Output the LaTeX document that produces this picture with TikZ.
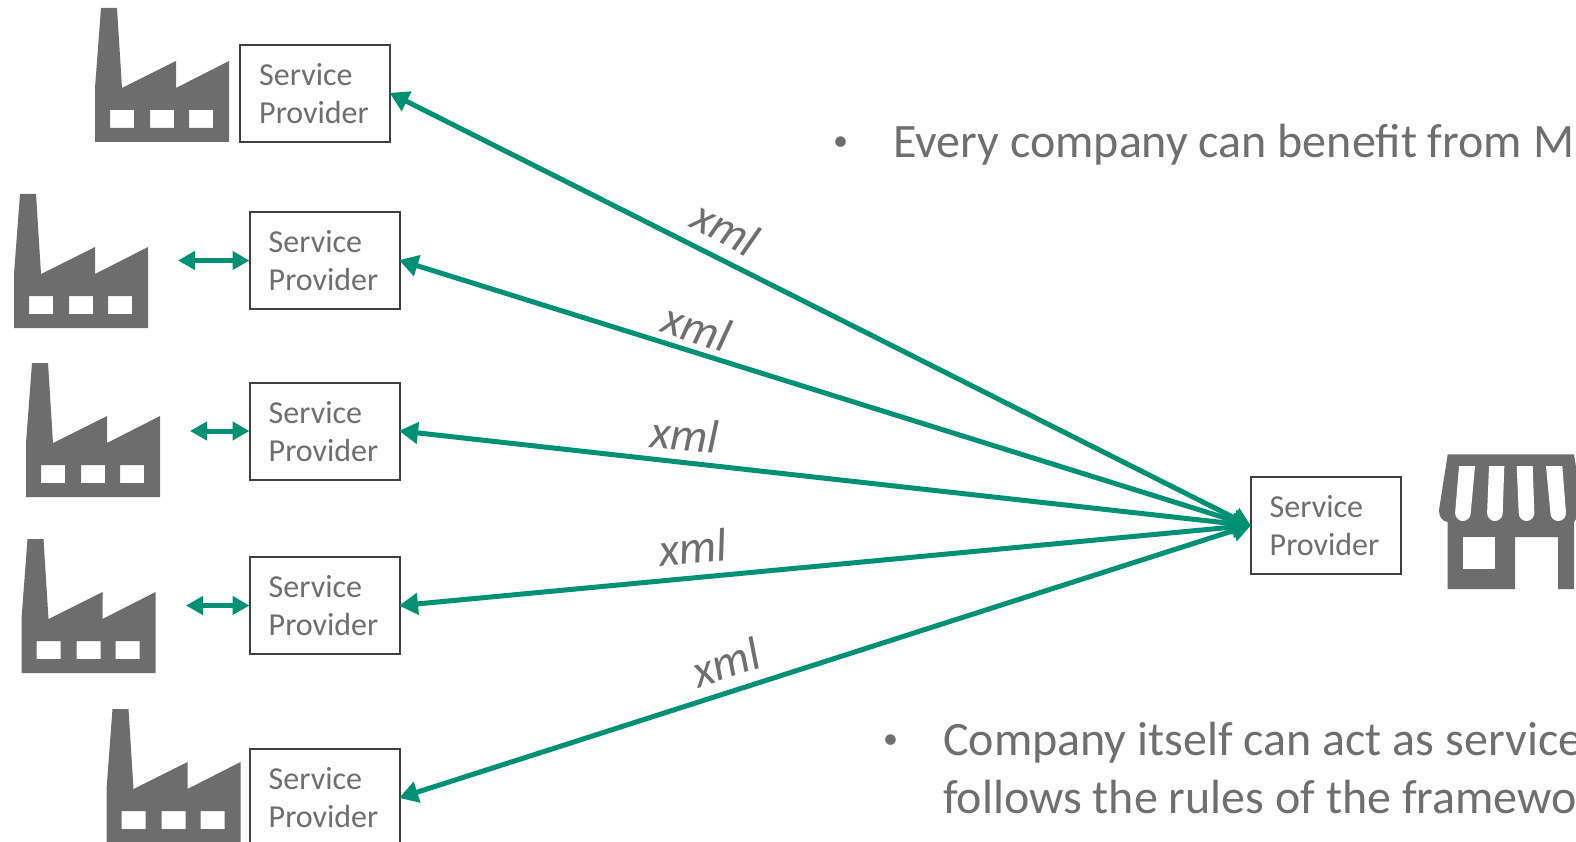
\documentclass[tikz,border=0pt]{standalone}
\usepackage{fontspec}
\setmainfont{Carlito}
\usetikzlibrary{arrows.meta}
\definecolor{grn}{HTML}{009174}
\definecolor{icon}{HTML}{6D6D6D}
\definecolor{txt}{HTML}{6F6F6F}
\definecolor{edge}{HTML}{404040}
\tikzset{
  x=1pt,y=-1pt,
  spbox/.style={draw=edge,line width=2pt,fill=white,minimum width=150pt,minimum height=97pt,inner sep=0pt,
    text=txt,font=\fontsize{32}{38}\selectfont,align=left},
  link/.style={draw=grn,line width=5pt,shorten <=-1.5pt,shorten >=-2pt,{Triangle[length=19pt,width=21pt]}-{Triangle[length=19pt,width=21pt]}},
  shortlink/.style={draw=grn,line width=5pt,shorten >=-1pt,{Triangle[length=17pt,width=18pt]}-{Triangle[length=17pt,width=18pt]}},
  xmllabel/.style={text=txt,font=\fontsize{47}{47}\selectfont\itshape,inner sep=0pt},
  body/.style={text=txt,font=\fontsize{48}{58}\selectfont,inner sep=0pt,anchor=base west},
  bulletmark/.style={text=txt,font=\fontsize{30}{30}\selectfont,inner sep=0pt,anchor=base west},
  factory/.pic={
    \fill[icon,even odd rule] (0,0) -- (0,-54) -- (6,-134) -- (22,-134) -- (27,-54) -- (81,-81) -- (81,-54) -- (134,-81) -- (134,0) -- cycle
      (15,-32) rectangle (39,-14) (55,-32) rectangle (79,-14) (94,-32) rectangle (118,-14);
  }
}
\newcommand{\sptext}{\hspace*{-2pt}\raisebox{-3.5pt}[\height][\depth]{\begin{tabular}{@{}l@{}}Service\\Provider\end{tabular}}}
\begin{document}
\begin{tikzpicture}
\useasboundingbox (0,0) rectangle (1576,842);
\clip (0,0) rectangle (1576,842);
% factories
\pic at (95,142) {factory};
\pic at (14,328) {factory};
\pic at (26,497) {factory};
\pic at (21.5,673) {factory};
\pic at (106.5,843) {factory};
% store
\fill[icon] (1447.7,454.3) -- (1574,454.3) -- (1582,505) -- (1582,510) -- (1574,522) -- (1574,589) -- (1558,589) -- (1558,537) -- (1515,537) -- (1515,589) -- (1447.5,589) -- (1447.5,522) .. controls (1442,521) and (1439,517) .. (1439,510) -- cycle;
\fill[white] (1463,537) rectangle (1495,569);
\foreach \ta/\tb/\ba/\bb in {1459/1475/1455/1470.7, 1489/1504.3/1487/1502.7, 1516.7/1532.7/1518.3/1534.3, 1546/1562.3/1550/1566}{
  \fill[white] (\ta,466) -- (\tb,466) -- (\bb,513) arc[start angle=0,end angle=180,x radius=7.8pt,y radius=-8pt] -- cycle;
}
% boxes
\node[spbox] (b1) at (315,93.5) {\sptext};
\node[spbox] (b2) at (324.5,260.5) {\sptext};
\node[spbox] (b3) at (324.5,431) {\sptext};
\node[spbox] (b4) at (324.5,605.5) {\sptext};
\node[spbox] (b5) at (324.5,797.5) {\sptext};
\node[spbox] (hub) at (1325.5,525.5) {\sptext};
% free ends of the short arrows
\coordinate (f2) at (178,260.5);
\coordinate (f3) at (190,431);
\coordinate (f4) at (186,605.5);
% connectors
\draw[shortlink] (f2) -- (b2.west);
\draw[shortlink] (f3) -- (b3.west);
\draw[shortlink] (f4) -- (b4.west);
\draw[link] (b1.east) -- (hub.west);
\draw[link] (b2.east) -- (hub.west);
\draw[link] (b3.east) -- (hub.west);
\draw[link] (b4.east) -- (hub.west);
\draw[link] (b5.east) -- (hub.west);
% labels
\node[xmllabel,rotate=-28] (x1) at (726,228) {xml};
\node[xmllabel,rotate=-18] (x2) at (697,327) {xml};
\node[xmllabel,rotate=-5] (x3) at (685,434) {xml};
\node[xmllabel,rotate=5] (x4) at (693,547) {xml};
\node[xmllabel,rotate=18] (x5) at (726,662) {xml};
% body text
\node[bulletmark] (t0) at (833,151) {•};
\node[body] (t1) at (893,158) {Every company can benefit from M};
\node[bulletmark] (t2) at (883,748) {•};
\node[body] (t3) at (943,755) {Company itself can act as service};
\node[body] (t4) at (943,813) {follows the rules of the framewo};
\end{tikzpicture}
\end{document}
